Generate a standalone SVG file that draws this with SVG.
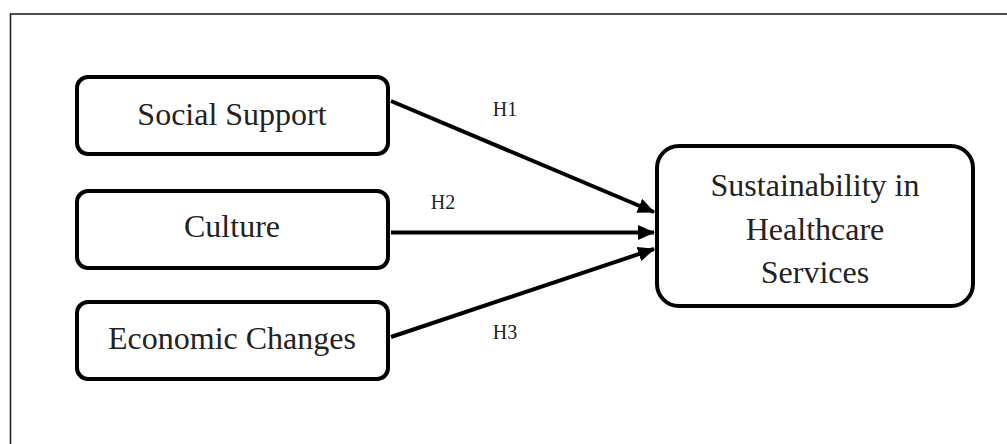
<svg xmlns="http://www.w3.org/2000/svg" width="1007" height="444" viewBox="0 0 1007 444">
<style>
.box{fill:#fff;stroke:#000;stroke-width:4}
.t{font-family:"Liberation Serif","Times New Roman",serif;fill:#222;text-anchor:middle}
.big{font-size:32px}
.lbl{font-size:20px}
.edge{stroke:#000;stroke-width:4;fill:none}
</style>
<defs>
<marker id="ah" markerUnits="userSpaceOnUse" markerWidth="17" markerHeight="15" viewBox="0 0 17 15" refX="16" refY="7.5" orient="auto">
<path d="M0,0 L17,7.5 L0,15 Z" fill="#000"/>
</marker>
</defs>
<rect x="0" y="0" width="1007" height="444" fill="#fff"/>
<rect x="10.5" y="14" width="1010" height="450" fill="none" stroke="#222" stroke-width="1.6"/>
<g id="connectors">
<line class="edge" x1="391" y1="101" x2="654" y2="212" marker-end="url(#ah)"/>
<line class="edge" x1="391" y1="232.5" x2="654" y2="232.5" marker-end="url(#ah)"/>
<line class="edge" x1="391" y1="337" x2="654" y2="249" marker-end="url(#ah)"/>
<text class="t lbl" x="505" y="116">H1</text>
<text class="t lbl" x="443" y="209">H2</text>
<text class="t lbl" x="505" y="339">H3</text>
</g>
<g id="social-support">
<rect class="box" x="77" y="77" width="311" height="77" rx="11"/>
<text class="t big" x="232" y="125">Social Support</text>
</g>
<g id="culture">
<rect class="box" x="77" y="191" width="311" height="77" rx="11"/>
<text class="t big" x="232" y="237">Culture</text>
</g>
<g id="economic-changes">
<rect class="box" x="77" y="302" width="311" height="77" rx="11"/>
<text class="t big" x="232" y="349">Economic Changes</text>
</g>
<g id="sustainability">
<rect class="box" x="657" y="146" width="316" height="160" rx="22"/>
<text class="t big" x="815" y="196">Sustainability in</text>
<text class="t big" x="815" y="240">Healthcare</text>
<text class="t big" x="815" y="283">Services</text>
</g>
</svg>
